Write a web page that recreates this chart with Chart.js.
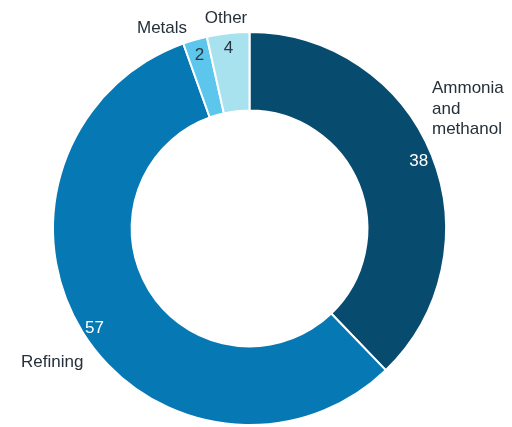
<!DOCTYPE html>
<html>
<head>
<meta charset="utf-8">
<script src="https://cdn.jsdelivr.net/npm/chart.js@4/dist/chart.umd.min.js"></script>
<style>
  html, body { margin: 0; padding: 0; background: #ffffff; }
  #wrap { width: 512px; height: 427px; position: relative; }
</style>
</head>
<body>
<div id="wrap"><canvas id="c" width="512" height="427"></canvas></div>
<script>
const categories = ["Ammonia and methanol", "Refining", "Metals", "Other"];
const values = [38, 57, 2, 3.5];
const colors = ["#074b6f", "#0678b4", "#5cc6ec", "#a8e2ef"];
const valueTextColors = ["#ffffff", "#ffffff", "#2b3540", "#2b3540"];

const labelLines = [["Ammonia", "and", "methanol"], ["Refining"], ["Metals"], ["Other"]];

const labelPlugin = {
  id: 'sliceLabels',
  afterDatasetsDraw(chart, args, opts) {
    const ctx = chart.ctx;
    const meta = chart.getDatasetMeta(0);
    ctx.save();
    ctx.font = '17px "Liberation Sans", Arial, sans-serif';
    meta.data.forEach((arc, i) => {
      const p = arc.getProps(['x', 'y', 'startAngle', 'endAngle', 'outerRadius'], true);
      const mid = (p.startAngle + p.endAngle) / 2;
      const r = p.outerRadius - opts.valueInset[i];
      const vx = p.x + Math.cos(mid) * r + opts.valueShift[i][0];
      const vy = p.y + Math.sin(mid) * r + opts.valueShift[i][1];
      ctx.fillStyle = valueTextColors[i];
      ctx.textAlign = 'center';
      ctx.textBaseline = 'middle';
      ctx.fillText(String(Math.round(values[i])), vx, vy);

      const pos = opts.labelPos[i];
      ctx.fillStyle = '#25303a';
      ctx.textAlign = pos.align;
      ctx.textBaseline = 'alphabetic';
      labelLines[i].forEach((line, k) => {
        ctx.fillText(line, pos.x, pos.y + k * 20.5);
      });
    });
    ctx.restore();
  }
};

new Chart(document.getElementById('c'), {
  type: 'doughnut',
  data: {
    labels: categories,
    datasets: [{
      data: values,
      backgroundColor: colors,
      borderColor: '#ffffff',
      borderWidth: 2,
      hoverOffset: 0
    }]
  },
  options: {
    responsive: false,
    animation: false,
    devicePixelRatio: 1,
    cutout: '60%',
    layout: { padding: { left: 52, top: 31, right: 65, bottom: 1 } },
    plugins: {
      legend: { display: false },
      tooltip: { enabled: false },
      sliceLabels: {
        valueInset: [14, 14, 16, 14],
        valueShift: [[0, 1], [0, 4], [0, 0], [-1, 1]],
        labelPos: [
          { x: 432, y: 93, align: 'left' },
          { x: 21, y: 367, align: 'left' },
          { x: 162, y: 33, align: 'center' },
          { x: 226, y: 23, align: 'center' }
        ]
      }
    }
  },
  plugins: [labelPlugin]
});
</script>
</body>
</html>
